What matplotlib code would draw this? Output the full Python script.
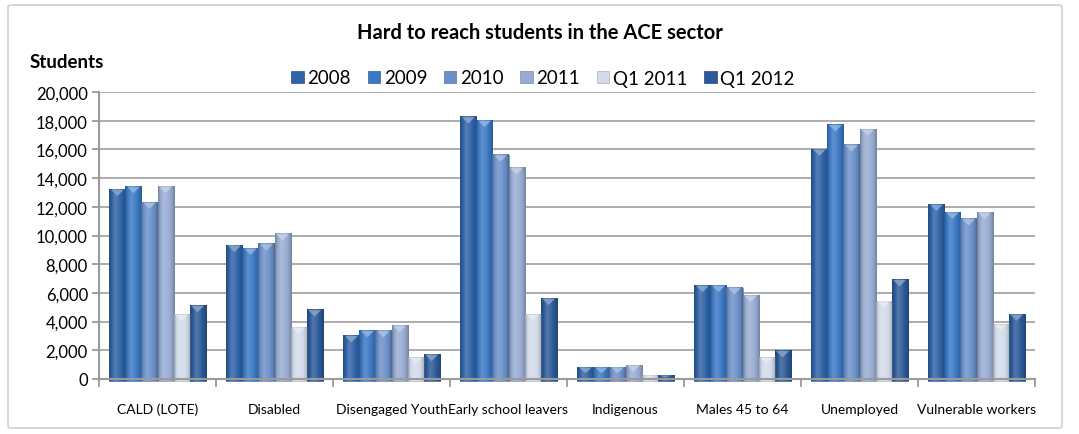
import numpy as np
import matplotlib
matplotlib.use("Agg")
import matplotlib.pyplot as plt
from matplotlib.patches import Rectangle, Polygon, Patch, FancyBboxPatch
from matplotlib.colors import to_rgb
from matplotlib.ticker import FuncFormatter, MultipleLocator

plt.rcParams['font.family'] = ['Lato', 'DejaVu Sans']

categories = ["CALD (LOTE)", "Disabled", "Disengaged Youth", "Early school leavers",
              "Indigenous", "Males 45 to 64", "Unemployed", "Vulnerable workers"]
series_names = ["2008", "2009", "2010", "2011", "Q1 2011", "Q1 2012"]

s2008 = [13200, 9300, 3000, 18250, 800, 6500, 16000, 12150]
s2009 = [13400, 9100, 3350, 18000, 800, 6500, 17700, 11600]
s2010 = [12300, 9400, 3350, 15600, 800, 6350, 16300, 11150]
s2011 = [13400, 10100, 3700, 14700, 950, 5800, 17400, 11600]
sq1_2011 = [4500, 3600, 1500, 4500, 250, 1500, 5400, 3800]
sq1_2012 = [5100, 4800, 1700, 5600, 250, 1950, 6900, 4500]

series = [s2008, s2009, s2010, s2011, sq1_2011, sq1_2012]
colors = ["#2F63A6", "#3B78C3", "#6B90C9", "#98ACD2", "#D3DBEA", "#2C5A98"]

W, H = 1079, 435
fig = plt.figure(figsize=(W / 100, H / 100), dpi=100)

# light frame around the chart area
frame = FancyBboxPatch((8 / W, 6 / H), 1054 / W, 423 / H,
                       boxstyle="round,pad=0,rounding_size=0.004",
                       transform=fig.transFigure, facecolor="white",
                       edgecolor="#D0D0D0", linewidth=1.2, zorder=-5)
fig.patches.append(frame)

ax = fig.add_axes([99 / W, 1 - 380 / H, 936 / W, 287 / H])
ax.set_facecolor("none")

n = len(series)
bw = 0.137
x = np.arange(len(categories))


def shade(color, t):
    base = np.array(to_rgb(color))
    # horizontal profile: darker edges, light band left of centre
    prof = np.interp(t, [0, 0.12, 0.35, 0.6, 0.9, 1.0],
                     [-0.25, -0.05, 0.18, 0.08, -0.12, -0.3])
    out = np.where(prof[:, None] > 0,
                   base + (1 - base) * prof[:, None],
                   base * (1 + prof[:, None]))
    return np.clip(out, 0, 1)


t = np.linspace(0, 1, 40)
for i, (vals, col) in enumerate(zip(series, colors)):
    grad = shade(col, t)[None, :, :]
    for j, v in enumerate(vals):
        x0 = x[j] - n * bw / 2 + i * bw
        ax.imshow(grad, extent=(x0, x0 + bw, -150, v), aspect="auto",
                  interpolation="bilinear", zorder=3, clip_on=False)
        ax.add_patch(Rectangle((x0, -150), bw, v + 150, fill=False,
                               edgecolor=np.array(to_rgb(col)) * 0.8,
                               linewidth=0.5, zorder=4, clip_on=False))
        # bevelled top
        cap = min(450, v * 0.5)
        lite = np.array(to_rgb(col)) + (1 - np.array(to_rgb(col))) * 0.45
        ax.add_patch(Polygon([(x0 + bw * 0.1, v), (x0 + bw * 0.9, v),
                              (x0 + bw * 0.5, v - cap)], closed=True,
                             facecolor=lite, edgecolor="none", zorder=5,
                             alpha=0.85))

ax.set_xlim(-0.5, len(categories) - 0.5)
ax.set_ylim(0, 20000)
ax.yaxis.set_major_locator(MultipleLocator(2000))
ax.yaxis.set_major_formatter(FuncFormatter(lambda v, p: f"{int(v):,}"))
ax.grid(axis="y", color="#A6A6A6", linewidth=1.3, zorder=0)
ax.set_axisbelow(True)

for s in ["top", "right"]:
    ax.spines[s].set_visible(False)
for s in ["left", "bottom"]:
    ax.spines[s].set_color("#9A9A9A")
    ax.spines[s].set_linewidth(1.5)
    ax.spines[s].set_zorder(6)

ax.set_xticks(np.arange(-0.5, len(categories), 1.0))
ax.set_xticklabels([])
ax.set_xticks(x, minor=True)
ax.set_xticklabels(categories, minor=True, fontsize=10)
ax.tick_params(axis="x", which="major", length=6, width=1.3, color="#9A9A9A",
               direction="out")
ax.tick_params(axis="x", which="minor", length=0, pad=17)
ax.tick_params(axis="y", length=5, width=1.3, color="#9A9A9A", labelsize=12,
               pad=3)

fig.text(540 / W, 1 - 33 / H, "Hard to reach students in the ACE sector",
         ha="center", va="center", fontsize=14.5, fontweight="bold")
fig.text(30 / W, 1 - 62 / H, "Students", ha="left", va="center",
         fontsize=13.5, fontweight="bold")

handles = [Patch(facecolor=c, edgecolor=np.array(to_rgb(c)) * 0.8, linewidth=0.5)
           for c in colors]
fig.legend(handles, series_names, loc="center", bbox_to_anchor=(543 / W, 1 - 79 / H),
           ncol=6, frameon=False, fontsize=13.5, handlelength=0.65,
           handleheight=0.65, handletextpad=0.2, columnspacing=0.9,
           borderaxespad=0)

fig.savefig("out.png", dpi=100)
